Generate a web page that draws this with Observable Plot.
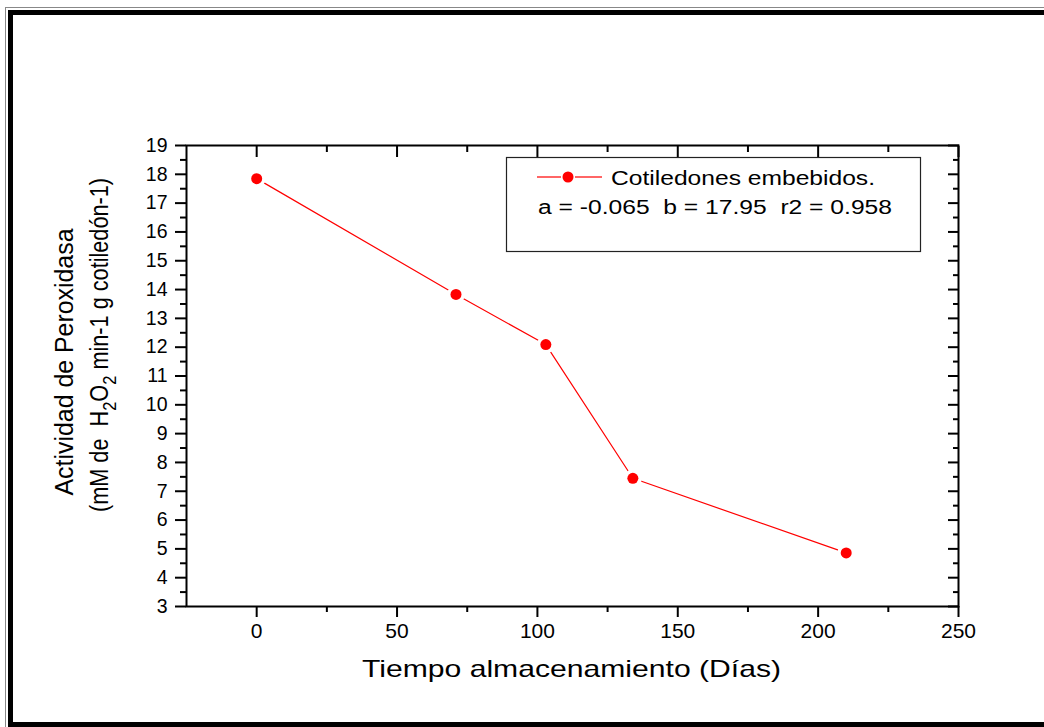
<!DOCTYPE html>
<html><head><meta charset="utf-8">
<script src="https://cdn.jsdelivr.net/npm/d3@7"></script>
<script src="https://cdn.jsdelivr.net/npm/@observablehq/plot@0.6"></script>
<style>
body{margin:0;background:#fff;font-family:"Liberation Sans",Arial,sans-serif;}
#wrap{position:relative;width:1044px;height:727px;overflow:hidden;background:#fff;}
.frame-thin{position:absolute;left:5px;top:7px;width:1100px;height:740px;border-left:1px solid #888;border-top:1px solid #888;}
.frame-thick{position:absolute;left:8px;top:10px;width:1100px;height:707px;border:5px solid #000;}
#chart{position:absolute;left:0;top:0;}
</style></head>
<body>
<div id="wrap"><div class="frame-thin"></div><div class="frame-thick"></div><div id="chart"></div></div>
<script>
// Data
const days = [0, 71, 103, 134, 210];
const activity = [17.85, 13.83, 12.09, 7.45, 4.86];
const seriesName = "Cotiledones embebidos.";
const fitText = "a = -0.065  b = 17.95  r2 = 0.958";
const xTicks = [0, 50, 100, 150, 200, 250];
const xMinor = [25, 75, 125, 175, 225];
const yTicks = [3,4,5,6,7,8,9,10,11,12,13,14,15,16,17,18,19];
const yMinor = [3.5,4.5,5.5,6.5,7.5,8.5,9.5,10.5,11.5,12.5,13.5,14.5,15.5,16.5,17.5,18.5];
const xTitle = "Tiempo almacenamiento (Días)";

const data = days.map((d, i) => ({day: d, act: activity[i]}));
const red = "#ff0000";

const plot = Plot.plot({
  width: 1044, height: 727,
  marginLeft: 186, marginRight: 86, marginTop: 145, marginBottom: 121,
  x: {domain: [-25, 250]},
  y: {domain: [3, 19]},
  style: {fontFamily: "'Liberation Sans', Arial, sans-serif", background: "transparent", color: "#000"},
  marks: [
    Plot.axisX(xTicks, {anchor: "bottom", tickSize: 11, tickPadding: 6, fontSize: 21, label: null, strokeWidth: 2}),
    Plot.axisX(xMinor, {anchor: "bottom", tickSize: 6, fill: "none", label: null, strokeWidth: 2}),
    Plot.axisX(xTicks, {anchor: "top", tickSize: -11, fill: "none", label: null, strokeWidth: 2}),
    Plot.axisX(xMinor, {anchor: "top", tickSize: -6, fill: "none", label: null, strokeWidth: 2}),
    Plot.axisY(yTicks, {anchor: "left", tickSize: 11, tickPadding: 8, fontSize: 19.5, label: null, strokeWidth: 2}),
    Plot.axisY(yMinor, {anchor: "left", tickSize: 6, fill: "none", label: null, strokeWidth: 2}),
    Plot.axisY(yTicks, {anchor: "right", tickSize: -11, fill: "none", label: null, strokeWidth: 2}),
    Plot.axisY(yMinor, {anchor: "right", tickSize: -6, fill: "none", label: null, strokeWidth: 2}),
    Plot.frame({stroke: "#000", strokeWidth: 2}),
    Plot.line(data, {x: "day", y: "act", stroke: red, strokeWidth: 1.2}),
    Plot.dot(data, {x: "day", y: "act", r: 9, fill: "white"}),
    Plot.dot(data, {x: "day", y: "act", r: 5.5, fill: red})
  ]
});
document.getElementById("chart").appendChild(plot);

const svg = d3.select(plot);
const ff = "'Liberation Sans', Arial, sans-serif";

// X axis title
svg.append("text").attr("x", 362).attr("y", 677).attr("text-anchor", "start")
  .attr("font-size", 24).attr("font-family", ff).attr("fill", "#000")
  .attr("textLength", 419).attr("lengthAdjust", "spacingAndGlyphs")
  .text(xTitle);

// Y axis title, two lines
svg.append("text").attr("transform", "translate(73,362) rotate(-90)")
  .attr("text-anchor", "middle").attr("font-size", 25).attr("font-family", ff).attr("fill", "#000")
  .attr("textLength", 267).attr("lengthAdjust", "spacingAndGlyphs")
  .text("Actividad de Peroxidasa");

const t2 = svg.append("text").attr("transform", "translate(108,345) rotate(-90)")
  .attr("text-anchor", "middle").attr("font-size", 25).attr("font-family", ff).attr("fill", "#000")
  .attr("textLength", 334).attr("lengthAdjust", "spacingAndGlyphs")
  .style("white-space", "pre");
t2.append("tspan").text("(mM de  H");
t2.append("tspan").attr("font-size", 19).attr("dy", 8).text("2");
t2.append("tspan").attr("dy", -8).text("O");
t2.append("tspan").attr("font-size", 19).attr("dy", 8).text("2");
t2.append("tspan").attr("dy", -8).text(" min-1 g cotiledón-1)");

// Legend box
const lg = svg.append("g").attr("text-anchor", "start");
lg.append("rect").attr("x", 506.5).attr("y", 157.5).attr("width", 414).attr("height", 94)
  .attr("fill", "white").attr("stroke", "#222").attr("stroke-width", 1.2);
lg.append("line").attr("x1", 537).attr("x2", 561).attr("y1", 177).attr("y2", 177).attr("stroke", red).attr("stroke-width", 1.2);
lg.append("line").attr("x1", 575).attr("x2", 602).attr("y1", 177).attr("y2", 177).attr("stroke", red).attr("stroke-width", 1.2);
lg.append("circle").attr("cx", 568).attr("cy", 177).attr("r", 5.5).attr("fill", red);
lg.append("text").attr("x", 611).attr("y", 185).attr("text-anchor", "start").attr("font-size", 21).attr("font-family", ff)
  .attr("textLength", 264).attr("lengthAdjust", "spacingAndGlyphs").text(seriesName);
lg.append("text").attr("x", 538).attr("y", 214).attr("text-anchor", "start").attr("font-size", 20).attr("font-family", ff)
  .style("white-space", "pre")
  .attr("textLength", 354).attr("lengthAdjust", "spacingAndGlyphs").text(fitText);
</script>
</body></html>
